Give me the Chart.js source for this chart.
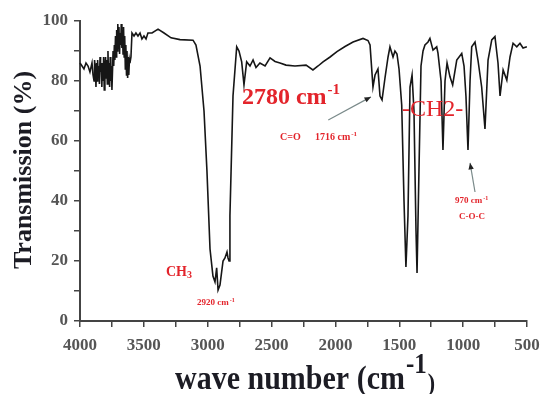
<!DOCTYPE html>
<html>
<head>
<meta charset="utf-8">
<script src="https://cdn.jsdelivr.net/npm/chart.js@4.4.1/dist/chart.umd.min.js"></script>
<style>
  html, body { margin: 0; padding: 0; background: #fff; }
  #wrap { width: 544px; height: 394px; position: relative; }
</style>
</head>
<body>
<div id="wrap"><canvas id="irChart" width="544" height="394"></canvas></div>
<script>
// IR spectrum (wave number in cm-1, transmission in %)
const wavenumbers = [
  4000, 3984, 3969, 3953, 3937, 3922, 3906, 3898, 3890, 3886, 3880, 3875, 3870, 3866,
  3862, 3857, 3852, 3848, 3843, 3839, 3834, 3829, 3825, 3820, 3815, 3810, 3805, 3800,
  3796, 3791, 3786, 3781, 3777, 3772, 3768, 3763, 3759, 3754, 3750, 3745, 3741, 3736,
  3731, 3727, 3722, 3718, 3713, 3709, 3704, 3700, 3695, 3690, 3686, 3681, 3677, 3672,
  3668, 3663, 3659, 3654, 3650, 3645, 3641, 3636, 3632, 3627, 3622, 3618, 3613, 3609,
  3601, 3593, 3577, 3562,
  3546, 3530, 3515, 3499, 3483, 3468, 3436, 3389, 3342, 3287, 3217, 3115, 3092, 3060,
  3029, 3006, 2982, 2959, 2943, 2930, 2919, 2904, 2880, 2865, 2849, 2841, 2833, 2826,
  2802, 2773, 2755, 2734, 2716, 2695, 2669, 2645, 2622, 2591, 2551, 2512, 2473, 2434,
  2387, 2317, 2230, 2176, 2136, 2097, 2042, 1988, 1925, 1862, 1784, 1745, 1729, 1706,
  1690, 1667, 1651, 1635, 1612, 1588, 1573, 1549, 1534, 1518, 1502, 1481, 1463, 1448,
  1432, 1416, 1400, 1385, 1369, 1361, 1346, 1330, 1314, 1299, 1275, 1260, 1236, 1207,
  1197, 1173, 1158, 1142, 1126, 1103, 1082, 1050, 1011, 993, 978, 962, 946, 933,
  907, 884, 855, 829, 805, 776, 751, 727, 711, 687, 658, 633, 609, 580,
  555, 531, 501
];
const transmission = [
  86, 85, 84, 86, 85, 83, 86, 82, 80, 87, 84, 78, 86, 80,
  87, 82, 85, 79, 88, 83, 86, 78, 85, 80, 88, 77, 84, 88,
  81, 87, 79, 90, 82, 86, 78, 88, 80, 85, 77, 84, 90, 85,
  92, 87, 95, 88, 97, 90, 99, 91, 98, 89, 96, 92, 99, 91,
  97, 89, 98, 88, 95, 84, 92, 82, 90, 81, 88, 82, 87, 86,
  88, 96, 95, 96,
  95, 96, 94, 95, 94, 96, 96, 97.3, 96, 94.4, 93.8, 93.6, 92, 85,
  70, 50, 24, 15, 13, 17.7, 10.3, 12, 20, 21, 23, 21, 20, 35,
  75, 91.4, 90, 86.4, 78.7, 86.4, 85, 87, 84.5, 86, 85, 87.7, 86.5, 86,
  85.3, 85, 85.3, 83.7, 85, 86.4, 88, 89.8, 91.5, 93, 94.2, 93.5, 92, 78,
  82, 84, 75, 73.7, 81, 88, 91.4, 88, 90, 89, 84, 72, 40, 18,
  35, 78, 82, 70, 30, 16, 50, 85, 90, 92, 93, 94.2, 90.3, 91.4,
  89.3, 80, 57, 80, 86, 81.4, 78.7, 87, 89.2, 85, 75, 57, 80, 91.4,
  93, 87, 78, 64, 87, 93.7, 94.8, 86, 75, 83.7, 80.3, 88, 92.6, 91.4,
  92.6, 91, 91.4
];
const xTickLabels = [4000, 3500, 3000, 2500, 2000, 1500, 1000, 500];
const yTickLabels = [0, 20, 40, 60, 80, 100];

const SERIF = '"Liberation Serif", "DejaVu Serif", serif';
const RED = '#e3242b';

function drawSup(ctx, base, sup, x, y, baseFont, supFont, rise) {
  ctx.font = baseFont;
  ctx.fillText(base, x, y);
  const w = ctx.measureText(base).width;
  ctx.font = supFont;
  ctx.fillText(sup, x + w + 1, y - rise);
  return x + w + 1 + ctx.measureText(sup).width;
}

function arrow(ctx, x1, y1, x2, y2) {
  ctx.save();
  ctx.strokeStyle = '#7a8a8a';
  ctx.lineWidth = 1.2;
  ctx.beginPath();
  ctx.moveTo(x1, y1);
  ctx.lineTo(x2, y2);
  ctx.stroke();
  const a = Math.atan2(y2 - y1, x2 - x1);
  ctx.fillStyle = '#222';
  ctx.beginPath();
  ctx.moveTo(x2, y2);
  ctx.lineTo(x2 - 7 * Math.cos(a - 0.4), y2 - 7 * Math.sin(a - 0.4));
  ctx.lineTo(x2 - 7 * Math.cos(a + 0.4), y2 - 7 * Math.sin(a + 0.4));
  ctx.closePath();
  ctx.fill();
  ctx.restore();
}

const labelsPlugin = {
  id: 'irLabels',
  afterDraw(chart) {
    const ctx = chart.ctx;
    const sx = chart.scales.x, sy = chart.scales.y;
    const px = v => sx.getPixelForValue(v);
    const py = v => sy.getPixelForValue(v);
    ctx.save();
    ctx.textBaseline = 'alphabetic';
    ctx.textAlign = 'left';

    // axis titles
    ctx.fillStyle = '#1c1c24';
    ctx.save();
    ctx.translate(31, 170);
    ctx.rotate(-Math.PI / 2);
    ctx.font = 'bold 26px ' + SERIF;
    ctx.textAlign = 'center';
    ctx.fillText('Transmission (%)', 0, 0);
    ctx.restore();

    ctx.save();
    ctx.translate(175, 389);
    ctx.scale(1, 1.15);
    let end = drawSup(ctx, 'wave number (cm', '-1', 0, 0, 'bold 30px ' + SERIF, 'bold 25px ' + SERIF, 14);
    ctx.font = 'bold 22px ' + SERIF;
    ctx.fillText(')', end + 1, 2);
    ctx.restore();

    // annotations
    ctx.fillStyle = RED;
    drawSup(ctx, '2780 cm', '-1', px(2732), py(72.5), 'bold 24px ' + SERIF, 'bold 15px ' + SERIF, 10);

    ctx.font = 'bold 10px ' + SERIF;
    ctx.fillText('C=O', px(2434), py(60.3));
    drawSup(ctx, '1716 cm', '-1', px(2160), py(60.3), 'bold 10px ' + SERIF, 'bold 7px ' + SERIF, 4);

    ctx.font = '24px ' + SERIF;
    ctx.fillText('-CH2-', px(1479), py(68.3));

    ctx.font = 'bold 14px ' + SERIF;
    ctx.fillText('CH', px(3327), py(15));
    const chw = ctx.measureText('CH').width;
    ctx.font = 'bold 10px ' + SERIF;
    ctx.fillText('3', px(3327) + chw, py(15) + 2);

    drawSup(ctx, '2920 cm', '-1', px(3084), py(5.3), 'bold 9px ' + SERIF, 'bold 6px ' + SERIF, 3);
    drawSup(ctx, '970 cm', '-1', px(1064), py(39.3), 'bold 9px ' + SERIF, 'bold 6px ' + SERIF, 3);
    ctx.font = 'bold 9px ' + SERIF;
    ctx.fillText('C-O-C', px(1032), py(34));

    arrow(ctx, px(2056), py(67), px(1722), py(74.7));
    arrow(ctx, px(907), py(43), px(946), py(52.7));
    ctx.restore();
  }
};

const points = wavenumbers.map((w, i) => ({ x: w, y: transmission[i] }));

new Chart(document.getElementById('irChart'), {
  type: 'line',
  data: {
    datasets: [{
      data: points,
      borderColor: '#161616',
      borderWidth: 1.6,
      pointRadius: 0,
      tension: 0,
      fill: false,
      clip: false
    }]
  },
  options: {
    responsive: false,
    animation: false,
    events: [],
    layout: { padding: { left: 0, top: 21, right: 17, bottom: 0 } },
    plugins: { legend: { display: false }, tooltip: { enabled: false } },
    scales: {
      x: {
        type: 'linear',
        reverse: true,
        min: 500,
        max: 4000,
        afterFit(scale) { scale.height = 73; scale.paddingLeft = 0; scale.paddingRight = 0; },
        border: { display: true, color: '#444', width: 2 },
        grid: { display: true, drawOnChartArea: false, drawTicks: true, tickLength: 6, color: '#444', lineWidth: 1.5 },
        ticks: {
          stepSize: 250,
          autoSkip: false,
          maxRotation: 0,
          padding: 8,
          color: '#555',
          font: { family: SERIF, size: 17, weight: 'bold' },
          callback: v => xTickLabels.includes(v) ? String(v) : ''
        }
      },
      y: {
        min: 0,
        max: 100,
        afterFit(scale) { scale.width = 80; },
        border: { display: true, color: '#444', width: 2 },
        grid: { display: true, drawOnChartArea: false, drawTicks: true, tickLength: 6, color: '#444', lineWidth: 1.5 },
        ticks: {
          stepSize: 10,
          autoSkip: false,
          padding: 6,
          color: '#555',
          font: { family: SERIF, size: 17, weight: 'bold' },
          callback: v => yTickLabels.includes(v) ? String(v) : ''
        }
      }
    }
  },
  plugins: [labelsPlugin]
});
</script>
</body>
</html>
